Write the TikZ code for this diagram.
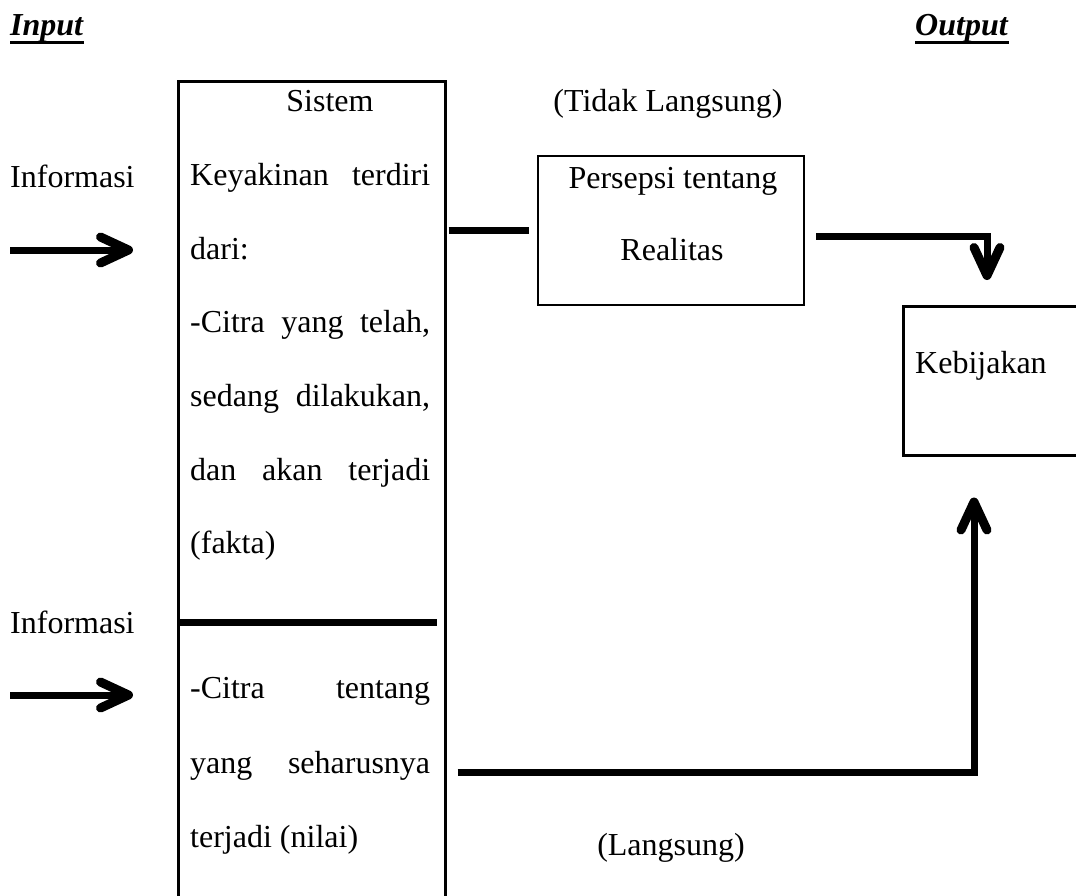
\documentclass[tikz,border=0pt]{standalone}
\usepackage{fontspec}
\setmainfont{Liberation Serif}
\usetikzlibrary{arrows.meta,calc}

\begin{document}
\begin{tikzpicture}[x=1pt,y=-1pt,
  font=\fontsize{32}{38}\selectfont,
  kotak/.style={draw,line width=2.5pt,inner sep=0pt},
  teks/.style={anchor=base west,inner sep=0pt},
  tengah/.style={anchor=base,inner sep=0pt},
  garis/.style={line width=7pt},
  panah/.style={line width=7pt,-{Straight Barb[length=28pt,width=26pt,round,line width=9pt]}}]
  \useasboundingbox (0,0) rectangle (1076,895);

  % Judul input dan output
  \node[teks] (input) at (10,35) {\textbf{\textit{Input}}};
  \node[teks] (output) at (915,35) {\textbf{\textit{Output}}};
  \draw[line width=3pt] ([yshift=-7pt]input.base west) -- ([yshift=-7pt]input.base east);
  \draw[line width=3pt] ([yshift=-7pt]output.base west) -- ([yshift=-7pt]output.base east);

  % Kotak sistem keyakinan
  \node[kotak,anchor=north west,minimum width=267pt,minimum height=840pt] (sistem) at (177,80) {};
  \node[tengah] (judul) at (330,111) {Sistem};
  \node[teks] (fakta1) at (190,185) {\makebox[240pt][s]{Keyakinan terdiri}};
  \node[teks] (fakta2) at (190,259) {dari:};
  \node[teks] (fakta3) at (190,332) {\makebox[240pt][s]{-Citra yang telah,}};
  \node[teks] (fakta4) at (190,406) {\makebox[240pt][s]{sedang dilakukan,}};
  \node[teks] (fakta5) at (190,480) {\makebox[240pt][s]{dan akan terjadi}};
  \node[teks] (fakta6) at (190,553) {(fakta)};
  \node[teks] (nilai1) at (190,698) {\makebox[240pt][s]{-Citra tentang}};
  \node[teks] (nilai2) at (190,773) {\makebox[240pt][s]{yang seharusnya}};
  \node[teks] (nilai3) at (190,847) {terjadi (nilai)};

  % Garis pemisah fakta dan nilai
  \coordinate (pemisah) at (177,622);
  \draw[garis] (pemisah) -- ($(sistem.east |- pemisah)+(-10,0)$);

  % Informasi masuk
  \node[teks] (info1) at (10,187) {Informasi};
  \node[teks] (info2) at (10,633) {Informasi};
  \coordinate (masuk1) at (10,250);
  \coordinate (masuk2) at (10,695);
  \draw[panah] (masuk1) -- ($(sistem.west |- masuk1)+(-44,0)$);
  \draw[panah] (masuk2) -- ($(sistem.west |- masuk2)+(-44,0)$);

  % Jalur tidak langsung
  \node[tengah] (tidak) at (668,111) {(Tidak Langsung)};
  \node[kotak,minimum width=266pt,minimum height=149pt] (persepsi) at (671,230.5) {};
  \node[tengah] (persepsi1) at (673,188) {Persepsi tentang};
  \node[tengah] (persepsi2) at (672,260) {Realitas};
  \draw[garis] ($(sistem.east |- persepsi.west)+(2,0)$) -- ($(persepsi.west)+(-8,0)$);

  % Kotak kebijakan
  \node[kotak,anchor=north west,minimum width=250pt,minimum height=149pt] (kebijakan) at (902,305) {};
  \node[teks] (kebijakan1) at (915,373) {Kebijakan};

  \coordinate (sudut1) at (987,236);
  \draw[panah] ($(persepsi.east |- sudut1)+(11,0)$) -| ($(sudut1 |- kebijakan.north)+(0,-25)$);

  % Jalur langsung
  \node[tengah] (langsung) at (671,855) {(Langsung)};
  \coordinate (sudut2) at (974,772);
  \draw[panah] ($(sistem.east |- sudut2)+(11,0)$) -| ($(sudut2 |- kebijakan.south)+(0,41)$);
\end{tikzpicture}
\end{document}
